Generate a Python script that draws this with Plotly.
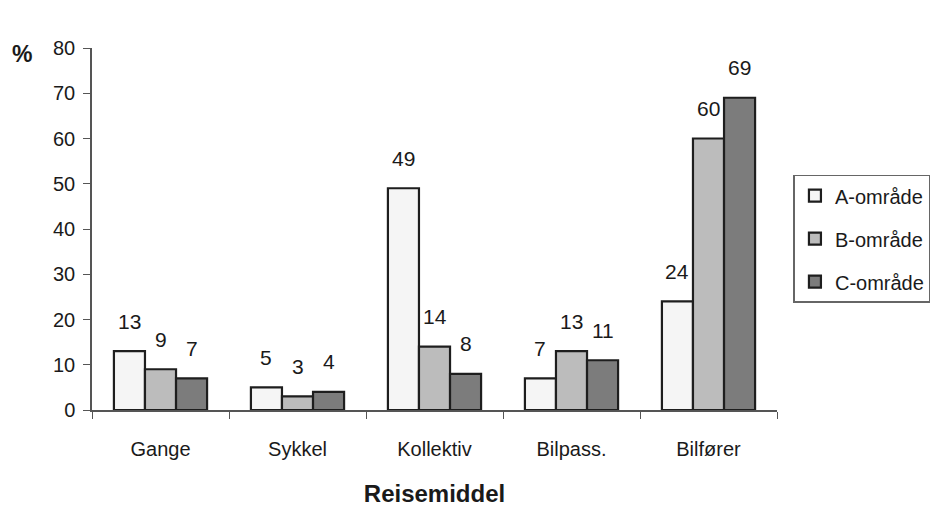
import plotly.graph_objects as go

categories = ["Gange", "Sykkel", "Kollektiv", "Bilpass.", "Bilfører"]
series_names = ["A-område", "B-område", "C-område"]
a_values = [13, 5, 49, 7, 24]
b_values = [9, 3, 14, 13, 60]
c_values = [7, 4, 8, 11, 69]

colors = ["#f5f5f5", "#bcbcbc", "#7c7c7c"]
FONT = "Liberation Sans, Arial, sans-serif"

fig = go.Figure()
for name, vals, col in zip(series_names, [a_values, b_values, c_values], colors):
    fig.add_trace(go.Bar(
        x=categories, y=vals, name=name, legendgroup=name,
        marker=dict(color=col, line=dict(color="#1e1e1e", width=2.2)),
    ))

# value labels above bars, offset a little like the original
offsets = [-1, 0, 1]
bar_w = 0.227
for vals, off in zip([a_values, b_values, c_values], offsets):
    for i, v in enumerate(vals):
        fig.add_annotation(
            x=i + off * bar_w, y=v, xref="x", yref="y",
            text=str(v), showarrow=False, yshift=30,
            font=dict(size=21, color="#1a1a1a", family=FONT),
        )

fig.add_annotation(
    x=-0.085, y=1.0, xref="paper", yref="paper", xanchor="right", yanchor="middle",
    text="<b>%</b>", showarrow=False, yshift=-6,
    font=dict(size=23, color="#1a1a1a", family=FONT),
)

fig.update_layout(
    width=944, height=520,
    paper_bgcolor="white", plot_bgcolor="white",
    margin=dict(l=84, r=175, t=40, b=118, autoexpand=False),
    barmode="group", bargap=0.32, bargroupgap=0,
    font=dict(family=FONT, size=20, color="#1a1a1a"),
    showlegend=True,
    legend=dict(
        x=1.024, y=0.65, xanchor="left", yanchor="top",
        bordercolor="#666666", borderwidth=1.5,
        font=dict(size=20, color="#1a1a1a"),
        tracegroupgap=14, itemwidth=30,
    ),
    xaxis=dict(
        type="category", tickson="boundaries", ticks="outside", ticklen=7,
        tickcolor="#555555", showline=True, linecolor="#555555", linewidth=1.5,
        tickfont=dict(size=20), ticklabelstandoff=20, automargin=False,
        title=dict(text="<b>Reisemiddel</b>", font=dict(size=24), standoff=26),
    ),
    yaxis=dict(
        range=[0, 80], dtick=10, ticks="outside", ticklen=7,
        tickcolor="#555555", showline=True, linecolor="#555555", linewidth=1.5,
        showgrid=False, zeroline=False, tickfont=dict(size=20),
        ticklabelstandoff=4, automargin=False,
    ),
)

fig.write_html("out.html")
